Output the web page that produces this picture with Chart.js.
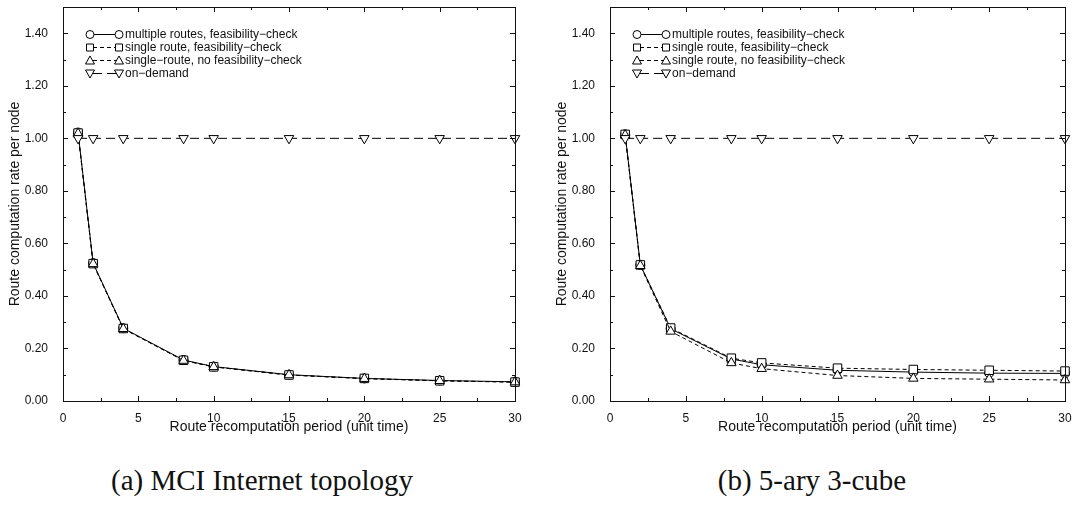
<!DOCTYPE html>
<html>
<head>
<meta charset="utf-8">
<script src="https://cdn.jsdelivr.net/npm/chart.js@4/dist/chart.umd.min.js"></script>
<style>
  body { margin: 0; background: #fff; width: 1073px; height: 507px; position: relative; overflow: hidden; }
  canvas { position: absolute; top: 0; }
  #chartA { left: 0; }
  #chartB { left: 547px; }
  .caption {
    position: absolute; top: 464px; transform: translateX(-50%);
    font-family: 'Liberation Serif', 'Times New Roman', serif; font-size: 29px;
    color: #111; white-space: nowrap;
  }
</style>
</head>
<body>
<canvas id="chartA" width="530" height="440"></canvas>
<canvas id="chartB" width="526" height="440"></canvas>
<div class="caption" style="left:262px">(a) MCI Internet topology</div>
<div class="caption" style="left:812px">(b) 5-ary 3-cube</div>
<script>
// recomputation periods (unit time)
const periods = [1, 2, 4, 8, 10, 15, 20, 25, 30];
const xTicks = [0, 5, 10, 15, 20, 25, 30];
const yTicks = [0, 0.2, 0.4, 0.6, 0.8, 1.0, 1.2, 1.4];

// (a) MCI Internet topology
const mciMultiple      = [1.022, 0.525, 0.277, 0.156, 0.131, 0.100, 0.086, 0.078, 0.073];
const mciSingleCheck   = [1.020, 0.523, 0.276, 0.155, 0.130, 0.099, 0.086, 0.077, 0.072];
const mciSingleNoCheck = [1.018, 0.522, 0.275, 0.154, 0.130, 0.099, 0.085, 0.077, 0.072];
const mciOnDemand      = [1.0, 1.0, 1.0, 1.0, 1.0, 1.0, 1.0, 1.0, 1.0];

// (b) 5-ary 3-cube
const cubeMultiple      = [1.015, 0.518, 0.275, 0.160, 0.138, 0.117, 0.110, 0.106, 0.105];
const cubeSingleCheck   = [1.015, 0.518, 0.278, 0.163, 0.145, 0.125, 0.120, 0.117, 0.114];
const cubeSingleNoCheck = [1.012, 0.515, 0.265, 0.145, 0.123, 0.097, 0.086, 0.083, 0.080];
const cubeOnDemand      = [1.0, 1.0, 1.0, 1.0, 1.0, 1.0, 1.0, 1.0, 1.0];

const legendA = ['multiple routes, feasibility\u2212check', 'single route, feasibility\u2212check',
                 'single\u2212route, no feasibility\u2212check', 'on\u2212demand'];
const legendB = ['multiple routes, feasibility\u2212check', 'single route, feasibility\u2212check',
                 'single route, no feasibility\u2212check', 'on\u2212demand'];

const FONT = "'Liberation Sans', Arial, Helvetica, sans-serif";

// marker + dash style for each of the four series
const looks = [
  { pointStyle: 'circle',   radius: 4.5, rotation: 0,   dash: [] },
  { pointStyle: 'rect',     radius: 6,   rotation: 0,   dash: [4, 3] },
  { pointStyle: 'triangle', radius: 5.5, rotation: 0,   dash: [4, 3] },
  { pointStyle: 'triangle', radius: 5.5, rotation: 180, dash: [9, 5] }
];

// small marker used by the legend
function marker(ctx, look, x, y) {
  ctx.save();
  ctx.setLineDash([]);
  ctx.fillStyle = '#fff';
  ctx.strokeStyle = '#000';
  ctx.lineWidth = 1;
  ctx.beginPath();
  if (look.pointStyle === 'circle') {
    ctx.arc(x, y, 4, 0, Math.PI * 2);
  } else if (look.pointStyle === 'rect') {
    ctx.rect(x - 3.5, y - 3.5, 7, 7);
  } else {
    const s = look.rotation ? -1 : 1;
    ctx.moveTo(x, y - 4.5 * s);
    ctx.lineTo(x + 4.5, y + 3.5 * s);
    ctx.lineTo(x - 4.5, y + 3.5 * s);
    ctx.closePath();
  }
  ctx.fill();
  ctx.stroke();
  ctx.restore();
}

// frame with inward ticks on all four sides, plus the legend box
const framePlugin = {
  id: 'frameTicks',
  afterDraw(chart) {
    const { ctx, chartArea: a, scales } = chart;
    const xs = scales.x, ys = scales.y;
    ctx.save();
    ctx.strokeStyle = '#111';
    ctx.lineWidth = 1;
    ctx.strokeRect(a.left + 0.5, a.top + 0.5, a.right - a.left, a.bottom - a.top);

    const xMinor = [];
    for (let i = 0; i < xTicks.length - 1; i++) xMinor.push((xTicks[i] + xTicks[i + 1]) / 2);
    const yMinor = [];
    for (let i = 0; i < yTicks.length - 1; i++) yMinor.push((yTicks[i] + yTicks[i + 1]) / 2);

    ctx.beginPath();
    const xt = (v, len) => {
      const p = Math.round(xs.getPixelForValue(v)) + 0.5;
      ctx.moveTo(p, a.bottom); ctx.lineTo(p, a.bottom - len);
      ctx.moveTo(p, a.top); ctx.lineTo(p, a.top + len);
    };
    const yt = (v, len) => {
      const p = Math.round(ys.getPixelForValue(v)) + 0.5;
      ctx.moveTo(a.left, p); ctx.lineTo(a.left + len, p);
      ctx.moveTo(a.right, p); ctx.lineTo(a.right - len, p);
    };
    xTicks.forEach(v => xt(v, 5));
    xMinor.forEach(v => xt(v, 3));
    yTicks.forEach(v => yt(v, 5));
    yMinor.forEach(v => yt(v, 3));
    ctx.stroke();

    // legend rows
    const names = chart.options.plugins.frameTicks.names;
    ctx.font = '12px ' + FONT;
    ctx.fillStyle = '#111';
    ctx.textBaseline = 'middle';
    names.forEach((name, i) => {
      const look = looks[i];
      const y = a.top + 27.5 + i * 13;
      const x1 = a.left + 27, x2 = a.left + 56;
      ctx.save();
      ctx.strokeStyle = '#000';
      ctx.lineWidth = 1;
      ctx.setLineDash(look.dash);
      ctx.beginPath();
      ctx.moveTo(x1 + 3, y);
      ctx.lineTo(x2 - 3, y);
      ctx.stroke();
      ctx.restore();
      marker(ctx, look, x1, y);
      marker(ctx, look, x2, y);
      ctx.fillText(name, a.left + 62, y + 0.5);
    });
    ctx.restore();
  }
};

function makeChart(id, series, names, rightPad) {
  const datasets = series.map((values, i) => ({
    label: names[i],
    data: periods.map((p, k) => ({ x: p, y: values[k] })),
    borderColor: '#000',
    borderWidth: 1,
    borderDash: looks[i].dash,
    backgroundColor: '#fff',
    pointStyle: looks[i].pointStyle,
    pointRadius: looks[i].radius,
    pointRotation: looks[i].rotation,
    pointBorderColor: '#000',
    pointBorderWidth: 1,
    pointBackgroundColor: '#fff',
    tension: 0,
    clip: false
  })).reverse();

  return new Chart(document.getElementById(id), {
    type: 'line',
    data: { datasets: datasets },
    options: {
      responsive: false,
      animation: false,
      events: [],
      layout: { padding: { top: 5, right: rightPad, bottom: 0, left: 0 } },
      plugins: {
        legend: { display: false },
        tooltip: { enabled: false },
        frameTicks: { names: names }
      },
      scales: {
        x: {
          type: 'linear', min: 0, max: 30,
          grid: { display: false },
          border: { display: false },
          afterBuildTicks: s => { s.ticks = xTicks.map(v => ({ value: v })); },
          afterFit: s => { s.height = 39; s.paddingLeft = 0; s.paddingRight = 0; },
          ticks: { font: { family: FONT, size: 12 }, color: '#111', padding: 2, maxRotation: 0 },
          title: {
            display: true, text: 'Route recomputation period (unit time)',
            font: { family: FONT, size: 14 }, color: '#111',
            padding: { top: 0, bottom: 4 }
          }
        },
        y: {
          type: 'linear', min: 0, max: 1.5,
          grid: { display: false },
          border: { display: false },
          afterBuildTicks: s => { s.ticks = yTicks.map(v => ({ value: v })); },
          afterFit: s => { s.width = 63; s.paddingTop = 0; s.paddingBottom = 0; },
          ticks: {
            font: { family: FONT, size: 12 }, color: '#111', padding: 7,
            callback: v => v.toFixed(2)
          },
          title: {
            display: true, text: 'Route computation rate per node',
            font: { family: FONT, size: 14 }, color: '#111',
            padding: { top: 7, bottom: 0 }
          }
        }
      }
    },
    plugins: [framePlugin]
  });
}

makeChart('chartA', [mciMultiple, mciSingleCheck, mciSingleNoCheck, mciOnDemand], legendA, 15);
makeChart('chartB', [cubeMultiple, cubeSingleCheck, cubeSingleNoCheck, cubeOnDemand], legendB, 8);
</script>
</body>
</html>
